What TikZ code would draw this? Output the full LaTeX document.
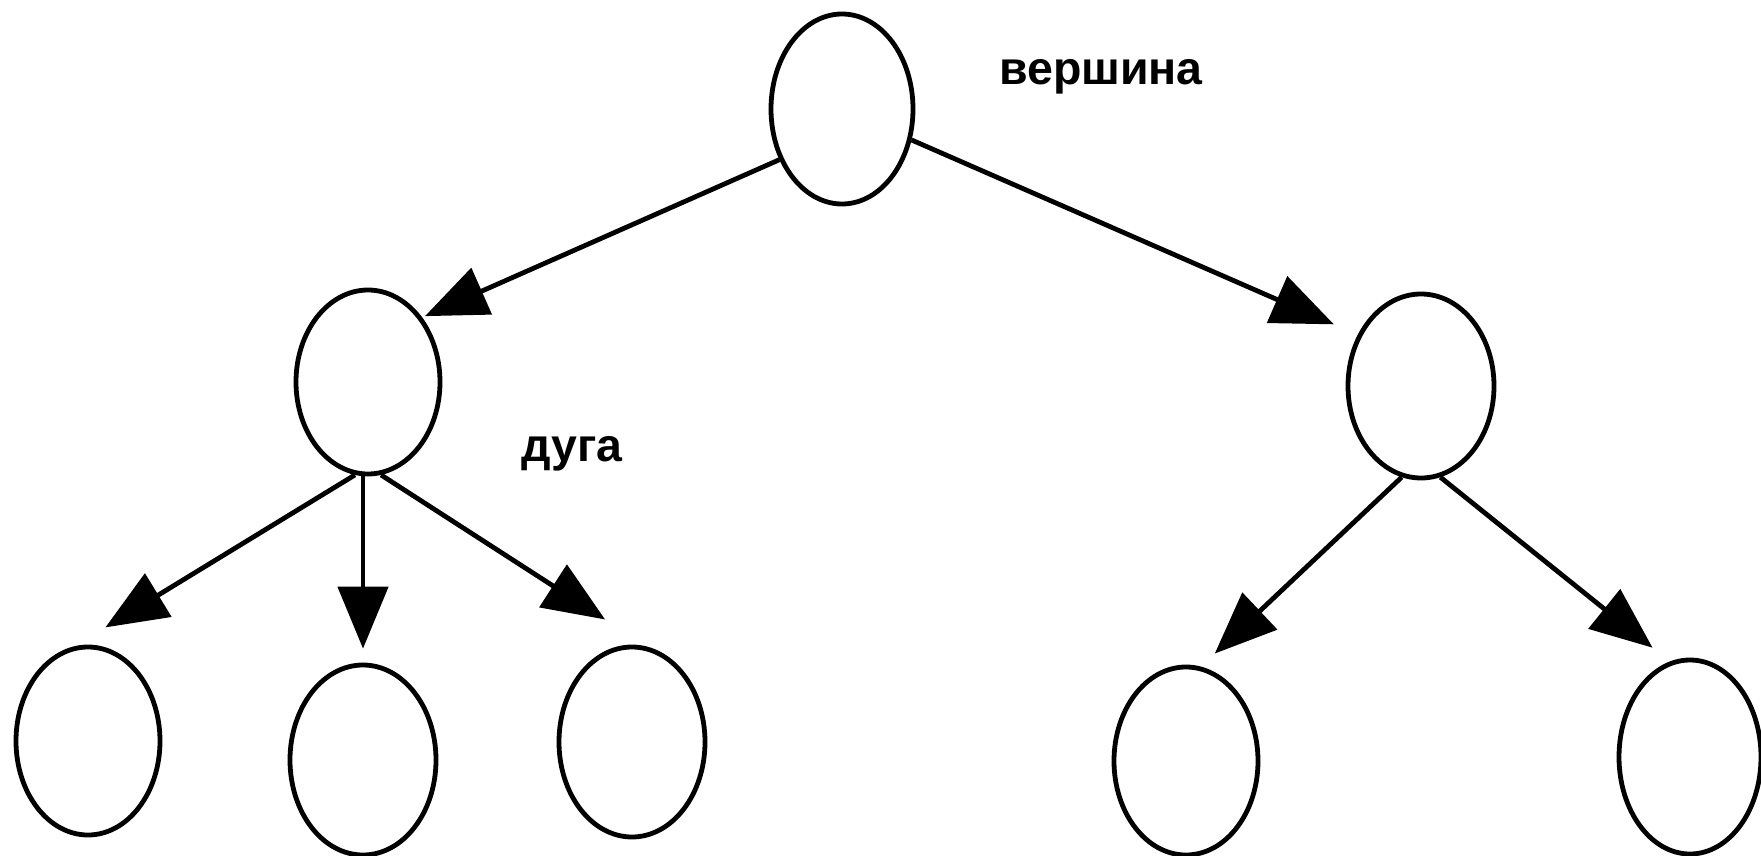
\documentclass[tikz,border=0pt]{standalone}
\usepackage{fontspec}
\setmainfont{Liberation Sans}
\usetikzlibrary{shapes.geometric,arrows.meta}
\begin{document}
\begin{tikzpicture}[x=1pt,y=-1pt,
  vertex/.style={ellipse,draw=black,line width=4.8pt,inner sep=0pt,
                 minimum width=144pt,minimum height=188pt},
  edge/.style={line width=4.8pt,draw=black,-{Triangle[length=62pt,width=50pt]}},
  caption/.style={font=\fontsize{46.5}{52}\selectfont\bfseries,anchor=base,inner sep=0pt}]
\fill[white] (0,0) rectangle (1761,856);
\useasboundingbox (0,0) rectangle (1761,856);

% vertices of the tree
\node[vertex,minimum width=142pt,minimum height=190pt] (root) at (842,109) {};
\node[vertex,minimum height=184pt] (lm) at (368,382) {};
\node[vertex,minimum width=146pt,minimum height=184pt] (rm) at (1421,386) {};
\node[vertex] (b1) at (88,741) {};
\node[vertex,minimum width=146pt,minimum height=190pt] (b2) at (363,760) {};
\node[vertex,minimum width=146pt,minimum height=190pt] (b3) at (632,742) {};
\node[vertex] (b4) at (1186,761) {};
\node[vertex,minimum width=142pt,minimum height=194pt] (b5) at (1690,757) {};

% labels
\node[caption] (lblv) at (1101,85) {вершина};
\node[caption] (lbla) at (572,461) {дуга};

% arcs
\draw[edge,shorten >=3pt] (root.219) -- (lm.50);
\draw[edge,shorten >=26pt] (root.336) -- (rm.141);
\draw[edge,shorten >=36pt] (lm.262) -- (b1.98);
\draw[edge,shorten >=14pt] (b2.north |- lm.south) -- (b2.north);
\draw[edge,shorten >=50pt] (lm.278) -- (b3.81);
\draw[edge,shorten >=19pt] (rm.258) -- (b4.81);
\draw[edge,shorten >=22pt] (rm.282) -- (b5.102);
\end{tikzpicture}
\end{document}
